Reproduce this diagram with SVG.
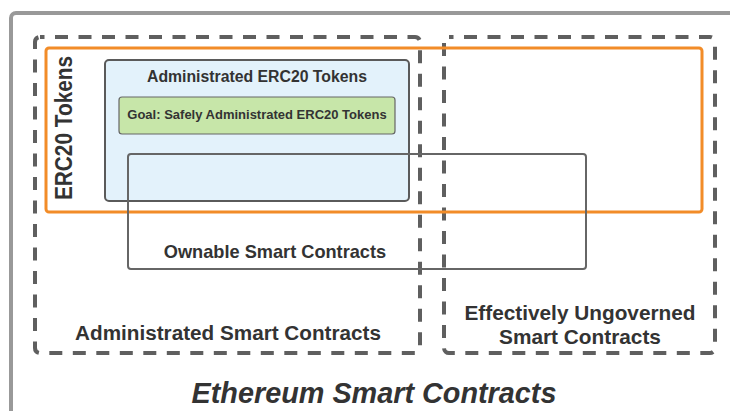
<svg xmlns="http://www.w3.org/2000/svg" width="730" height="411" viewBox="0 0 730 411">
<style>
text{font-family:"Liberation Sans",Arial,sans-serif;font-weight:bold;fill:#333;text-anchor:middle}
.dash{fill:none;stroke:#5f5f5f;stroke-width:4;stroke-dasharray:13 10.5;stroke-dashoffset:8.5}
.solid{stroke:#5a5a5a;stroke-width:2}
</style>
<rect x="0" y="0" width="730" height="411" fill="#fff"/>
<g id="ethereum">
<rect x="11" y="13" width="760" height="440" rx="5" fill="none" stroke="#999" stroke-width="4"/>
<text x="374" y="403" font-size="28.8" font-style="italic">Ethereum Smart Contracts</text>
</g>
<g id="administrated">
<rect class="dash" x="35" y="37" width="385" height="316" rx="5"/>
<text x="228" y="340" font-size="20.7">Administrated Smart Contracts</text>
</g>
<g id="ungoverned">
<rect class="dash" x="444" y="37" width="271" height="316" rx="5"/>
<text x="580" y="320" font-size="20.8">Effectively Ungoverned</text>
<text x="580" y="344" font-size="20.8">Smart Contracts</text>
</g>
<g id="erc20">
<rect x="46" y="48" width="656" height="164" rx="3" fill="none" stroke="#f28c28" stroke-width="3"/>
<text transform="translate(72,128) rotate(-90) scale(1,1.12)" font-size="20.8">ERC20 Tokens</text>
</g>
<g id="admin-erc20">
<rect class="solid" x="105" y="60" width="304" height="141" rx="4" fill="#e3f2fb"/>
<text x="257" y="81.5" font-size="15.8">Administrated ERC20 Tokens</text>
</g>
<g id="goal">
<rect x="119" y="97" width="276" height="37" rx="3" fill="#c7e6a9" stroke="#666" stroke-width="1.2"/>
<text x="257" y="118.5" font-size="13">Goal: Safely Administrated ERC20 Tokens</text>
</g>
<g id="ownable">
<rect x="128" y="154" width="458" height="115" rx="3" fill="none" stroke="#666" stroke-width="2"/>
<text x="275" y="257.5" font-size="18.2">Ownable Smart Contracts</text>
</g>
<g id="connectors"></g>
</svg>
